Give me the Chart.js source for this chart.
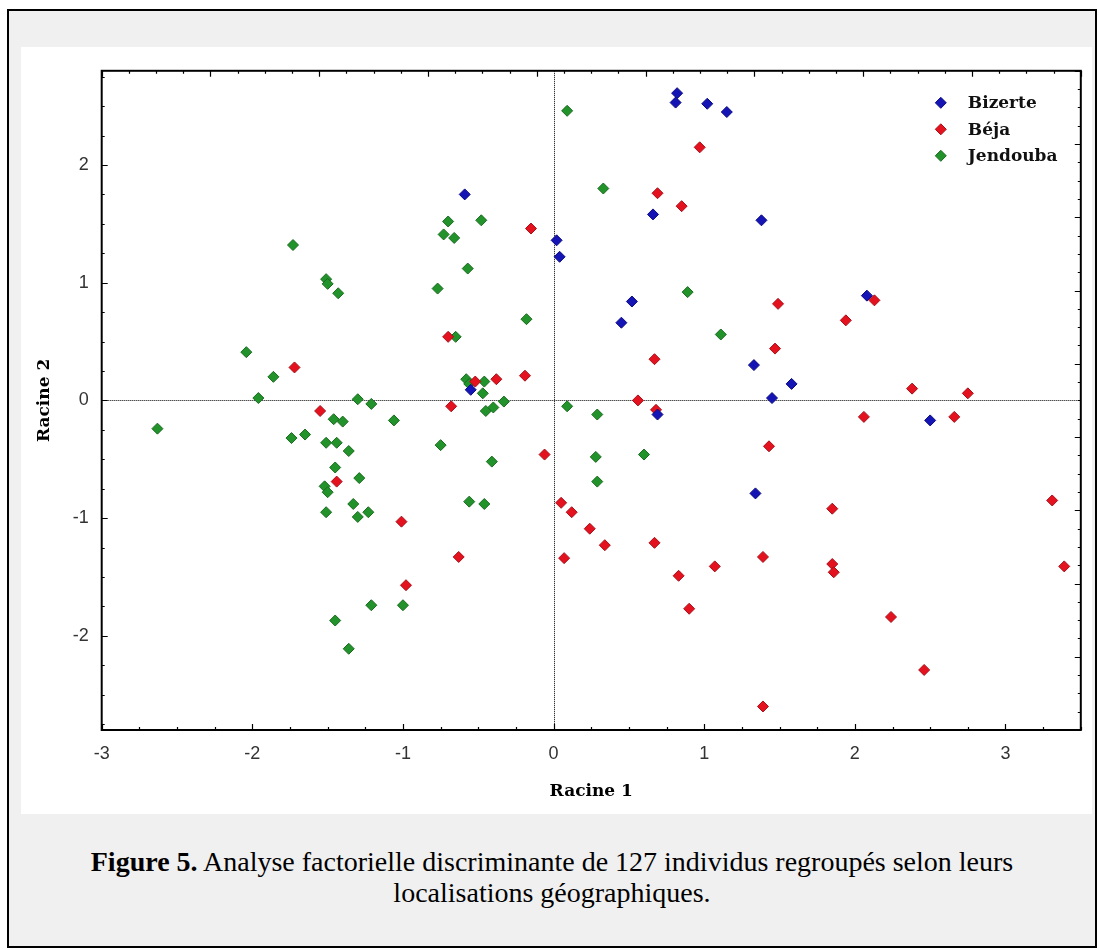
<!DOCTYPE html>
<html>
<head>
<meta charset="utf-8">
<script src="https://cdn.jsdelivr.net/npm/chart.js@4.4.1/dist/chart.umd.min.js"></script>
<style>
  body { margin: 0; background: #fff; width: 1099px; height: 950px; position: relative; overflow: hidden; }
  #frame { position: absolute; left: 7px; top: 9px; width: 1086px; height: 935px; border: 2px solid #000; background: #f0f0f0; }
  #panel { position: absolute; left: 21px; top: 47px; width: 1071px; height: 767px; background: #fff; }
  #caption { position: absolute; left: 7px; width: 1090px; top: 846px; text-align: center;
    font-family: 'Liberation Serif', 'Times New Roman', serif; font-size: 28px; line-height: 31px; color: #000; }
</style>
</head>
<body>
<div id="frame"></div>
<div id="panel"><canvas id="chart" width="1071" height="767"></canvas></div>
<div id="caption"><b>Figure 5.</b> Analyse factorielle discriminante de 127 individus regroupés selon leurs<br>localisations géographiques.</div>
<script>
const seriesNames = ['Bizerte', 'Béja', 'Jendouba'];
const seriesColors = ['#1515b5', '#e3121e', '#22922a'];
const seriesBorders = ['#0b0b80', '#a8101a', '#1a6a20'];

const bizerteX = [0.82, 0.81, 1.02, 1.15, -0.59, 0.02, 0.04, 0.66, 0.52, 0.45, 1.33, 1.38, 2.08, 1.58, 1.45, 0.69, 2.50, 1.34, -0.55];
const bizerteY = [2.61, 2.53, 2.52, 2.45, 1.75, 1.36, 1.22, 1.58, 0.84, 0.66, 0.30, 1.53, 0.89, 0.14, 0.02, -0.12, -0.17, -0.79, 0.09];

const bejaX = [-1.72, -1.55, -1.44, -1.01, -0.98, 0.97, 0.69, 0.85, -0.15, -0.70, 0.67, -0.19, -0.52, -0.38, -0.68, 0.56,
  1.49, 2.13, 1.94, 1.47, 2.38, 2.75, 0.68, -0.06, 0.05, 0.12, 0.24, 0.34, 0.67, 0.07, -0.63, 0.83, 1.07, 0.90,
  2.06, 2.66, 1.43, 1.85, 3.31, 1.39, 1.85, 1.86, 3.39, 2.24, 2.46, 1.39];
const bejaY = [0.28, -0.09, -0.69, -1.03, -1.57, 2.15, 1.76, 1.65, 1.46, 0.54, 0.35, 0.21, 0.16, 0.18, -0.05, 0.00,
  0.82, 0.85, 0.68, 0.44, 0.10, 0.06, -0.08, -0.46, -0.87, -0.95, -1.09, -1.23, -1.21, -1.34, -1.33, -1.49, -1.41, -1.77,
  -0.14, -0.14, -0.39, -0.92, -0.85, -1.33, -1.39, -1.46, -1.41, -1.84, -2.29, -2.60];

const jendoubaX = [-1.73, -1.51, -1.50, -1.43, -2.04, -1.86, -1.96, -1.30, -1.21, -2.63, -1.46, -1.40, -1.06, -1.74, -1.65,
  -1.51, -1.44, -1.36, -1.45, -1.29, -1.52, -1.50, -1.33, -1.51, -1.30, -1.23, -1.21, -1.00, -1.45, -1.36,
  0.09, 0.33, -0.70, -0.48, -0.73, -0.66, -0.57, -0.77, 0.89, -0.18, 1.11, -0.65, -0.58, -0.46, -0.56, -0.47,
  -0.45, -0.40, -0.33, 0.09, 0.29, -0.75, -0.41, 0.28, 0.60, 0.29, -0.56, -0.46];
const jendoubaY = [1.32, 1.03, 0.99, 0.91, 0.41, 0.20, 0.02, 0.01, -0.03, -0.24, -0.16, -0.18, -0.17, -0.32, -0.29,
  -0.36, -0.36, -0.43, -0.57, -0.66, -0.73, -0.78, -0.88, -0.95, -0.99, -0.95, -1.74, -1.74, -1.87, -2.11,
  2.46, 1.80, 1.52, 1.53, 1.41, 1.38, 1.12, 0.95, 0.92, 0.69, 0.56, 0.54, 0.18, 0.16, 0.14, 0.06,
  -0.09, -0.06, -0.01, -0.05, -0.12, -0.38, -0.52, -0.48, -0.46, -0.69, -0.86, -0.88];

const xTicks = [-3, -2, -1, 0, 1, 2, 3];
const yTicks = [-2, -1, 0, 1, 2];
const xRange = [-3, 3.5];
const yRange = [-2.8, 2.8];
const MINOR = 0.25;

const toPoints = (xs, ys) => xs.map((x, i) => ({ x: x, y: ys[i] }));
const allX = [bizerteX, bejaX, jendoubaX];
const allY = [bizerteY, bejaY, jendoubaY];

const datasets = seriesNames.map((name, i) => ({
  label: name,
  data: toPoints(allX[i], allY[i]),
  pointStyle: 'rectRot',
  radius: 5.5,
  hoverRadius: 5.5,
  backgroundColor: seriesColors[i],
  borderColor: seriesBorders[i],
  borderWidth: 1
}));

// ticks pointing into the plot on all four sides
function drawTicks(ctx, scale, from, to, edge, a) {
  const start = Math.ceil(from / MINOR - 1e-9) * MINOR;
  const n = Math.floor((to - start) / MINOR + 1e-9);
  ctx.beginPath();
  for (let i = 0; i <= n; i++) {
    const v = start + i * MINOR;
    const len = Math.abs(v - Math.round(v)) < 1e-6 ? 6 : 3;
    const p = Math.round(scale.getPixelForValue(v)) + 0.5;
    if (edge === 'bottom') { ctx.moveTo(p, a.bottom); ctx.lineTo(p, a.bottom - len); }
    if (edge === 'top') { ctx.moveTo(p, a.top); ctx.lineTo(p, a.top + len); }
    if (edge === 'left') { ctx.moveTo(a.left, p); ctx.lineTo(a.left + len, p); }
    if (edge === 'right') { ctx.moveTo(a.right, p); ctx.lineTo(a.right - len, p); }
  }
  ctx.stroke();
}

const decor = {
  id: 'decor',
  beforeDatasetsDraw(chart) {
    const { ctx, chartArea: a, scales: { x, y } } = chart;
    ctx.save();
    ctx.strokeStyle = '#000';
    ctx.lineWidth = 1;
    ctx.setLineDash([1, 1]);
    const x0 = Math.round(x.getPixelForValue(0)) + 0.5;
    const y0 = Math.round(y.getPixelForValue(0)) + 0.5;
    ctx.beginPath();
    ctx.moveTo(x0, a.top); ctx.lineTo(x0, a.bottom);
    ctx.moveTo(a.left, y0); ctx.lineTo(a.right, y0);
    ctx.stroke();
    ctx.restore();
  },
  afterDatasetsDraw(chart) {
    const { ctx, chartArea: a, scales } = chart;
    ctx.save();
    ctx.strokeStyle = '#000';
    ctx.lineWidth = 2;
    ctx.strokeRect(a.left, a.top, a.right - a.left, a.bottom - a.top);
    ctx.lineWidth = 1.2;
    drawTicks(ctx, scales.x, xRange[0], xRange[1], 'bottom', a);
    drawTicks(ctx, scales.y, yRange[0], yRange[1], 'left', a);
    drawTicks(ctx, scales.x2, 0, 9, 'top', a);
    drawTicks(ctx, scales.y2, 0, 9, 'right', a);

    // legend, top right inside the plot
    ctx.font = 'bold 17px "DejaVu Serif", serif';
    ctx.textBaseline = 'middle';
    ctx.textAlign = 'left';
    chart.data.datasets.forEach((ds, i) => {
      const cx = a.right - 140;
      const cy = a.top + 32 + i * 26.5;
      ctx.fillStyle = ds.backgroundColor;
      ctx.strokeStyle = ds.borderColor;
      ctx.lineWidth = 1;
      Chart.helpers.drawPoint(ctx, { pointStyle: 'rectRot', radius: 5.5, borderWidth: 1, rotation: 0 }, cx, cy);
      ctx.fillStyle = '#111';
      ctx.fillText(ds.label, a.right - 113, cy + 1);
    });
    ctx.restore();
  }
};

const tickFont = { family: '"Liberation Sans", Arial, sans-serif', size: 18 };
const titleFont = { family: '"DejaVu Serif", serif', size: 17, weight: 'bold' };

new Chart(document.getElementById('chart'), {
  type: 'scatter',
  data: { datasets: datasets },
  options: {
    responsive: false,
    animation: false,
    events: [],
    layout: { padding: { top: 19, right: 11.2, left: 0, bottom: 0 } },
    plugins: { legend: { display: false }, tooltip: { enabled: false } },
    scales: {
      x: {
        type: 'linear', position: 'bottom', min: xRange[0], max: xRange[1],
        afterBuildTicks: s => { s.ticks = xTicks.map(v => ({ value: v })); },
        afterFit: s => { s.height = 84; },
        grid: { display: false, drawTicks: false },
        border: { display: false },
        ticks: { font: tickFont, color: '#333', padding: 13, maxRotation: 0 },
        title: { display: true, text: 'Racine 1', font: titleFont, color: '#000', padding: { top: 0, bottom: 12 } }
      },
      y: {
        type: 'linear', position: 'left', min: yRange[0], max: yRange[1],
        afterBuildTicks: s => { s.ticks = yTicks.map(v => ({ value: v })); },
        afterFit: s => { s.width = 80.7; },
        grid: { display: false, drawTicks: false },
        border: { display: false },
        ticks: { font: tickFont, color: '#333', padding: 13 },
        title: { display: true, text: 'Racine 2', font: titleFont, color: '#000', padding: { top: 13.5, bottom: 0 } }
      },
      x2: { type: 'linear', position: 'top', min: 0, max: 9, display: false },
      y2: { type: 'linear', position: 'right', min: 0, max: 9, display: false }
    }
  },
  plugins: [decor]
});
</script>
</body>
</html>
